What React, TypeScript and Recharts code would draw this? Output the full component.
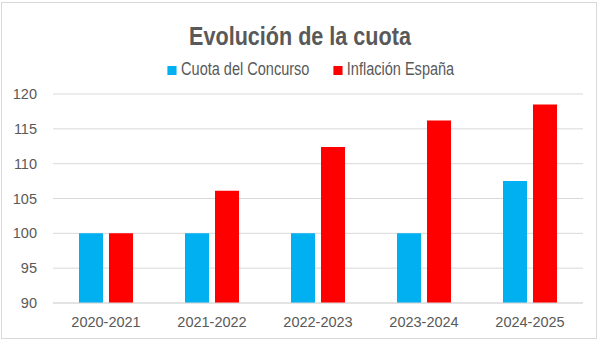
import { BarChart, Bar, XAxis, YAxis, CartesianGrid, Legend } from "recharts";

const seasons = ["2020-2021", "2021-2022", "2022-2023", "2023-2024", "2024-2025"];
const cuota = [100, 100, 100, 100, 107.5];
const inflacion = [100, 106.1, 112.4, 116.2, 118.5];
const yTicks = [90, 95, 100, 105, 110, 115, 120];

const data = seasons.map((season, i) => ({
  season,
  cuota: cuota[i],
  inflacion: inflacion[i],
}));

const TEXT = "#595959";
const GRID = "#d9d9d9";
const SANS = '"Liberation Sans", Arial, sans-serif';
// the original uses a narrow face; squeeze Liberation Sans horizontally
const SQUEEZE = 0.83;

function LegendBox(props: any) {
  const items = props.payload || [];
  return (
    <div
      style={{
        display: "flex",
        justifyContent: "center",
        fontFamily: SANS,
        fontSize: 17.5,
        color: TEXT,
        lineHeight: "17.5px",
        height: 18,
        transform: `translateX(11px) scaleX(${SQUEEZE})`,
        transformOrigin: "center",
      }}
    >
      {items.map((it: any, i: number) => (
        <div key={it.value} style={{ display: "flex", alignItems: "center", marginLeft: i ? 29 : 0 }}>
          <span style={{ width: 11, height: 9, background: it.color, marginRight: 5, display: "inline-block" }} />
          <span>{it.value}</span>
        </div>
      ))}
    </div>
  );
}

export default function App() {
  return (
    <div style={{ position: "relative", width: 600, height: 345, background: "#fff" }}>
      <style>{"body{margin:0}"}</style>
      <div
        style={{
          position: "absolute",
          left: 1,
          top: 2,
          width: 594,
          height: 335,
          border: `1px solid ${GRID}`,
        }}
      />
      <div
        style={{
          position: "absolute",
          top: 23,
          left: 0,
          width: 600,
          textAlign: "center",
          fontFamily: SANS,
          fontWeight: "bold",
          fontSize: 26,
          lineHeight: "26px",
          color: TEXT,
          transform: `scaleX(${SQUEEZE})`,
          transformOrigin: "center",
        }}
      >
        Evolución de la cuota
      </div>
      <BarChart
        width={600}
        height={345}
        data={data}
        margin={{ top: 76, right: 17, bottom: 12, left: 0 }}
        barSize={24}
        barGap={6}
        style={{ position: "absolute", top: 0, left: 0 }}
      >
        <CartesianGrid vertical={false} stroke={GRID} />
        <XAxis
          dataKey="season"
          height={30}
          axisLine={{ stroke: GRID }}
          tickLine={false}
          tickSize={0}
          tickMargin={14}
          tick={{ fill: TEXT, fontSize: 14.5, fontFamily: SANS }}
        />
        <YAxis
          width={53}
          domain={[90, 120]}
          ticks={yTicks}
          axisLine={false}
          tickLine={false}
          tickSize={0}
          tickMargin={16}
          tick={{ fill: TEXT, fontSize: 14.5, fontFamily: SANS }}
        />
        <Legend
          verticalAlign="top"
          wrapperStyle={{ top: 61, left: 0, width: 600 }}
          content={<LegendBox />}
        />
        <Bar dataKey="cuota" name="Cuota del Concurso" fill="#00b0f0" isAnimationActive={false} />
        <Bar dataKey="inflacion" name="Inflación España" fill="#ff0000" isAnimationActive={false} />
      </BarChart>
    </div>
  );
}
